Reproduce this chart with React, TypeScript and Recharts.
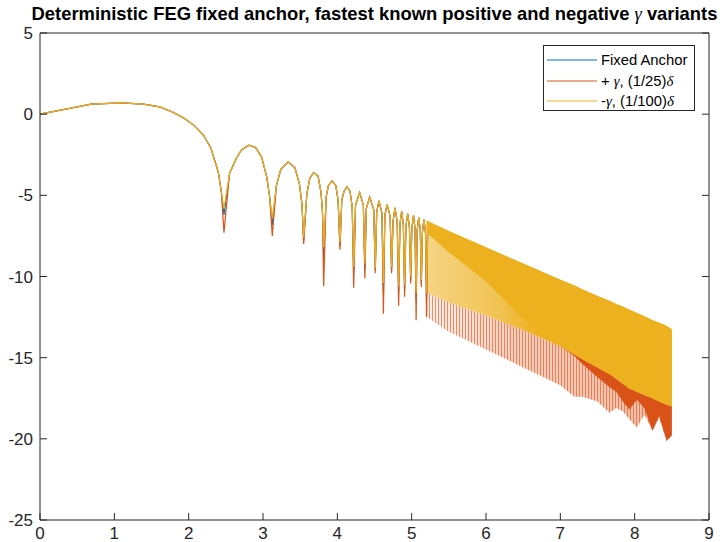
import React from 'react';
import { ComposedChart, Line, Area, XAxis, YAxis, Legend } from 'recharts';

const xTicks = [0, 1, 2, 3, 4, 5, 6, 7, 8, 9];
const yTicks = [-25, -20, -15, -10, -5, 0, 5];

const C_BLUE = '#0072BD';
const C_ORANGE = '#D95319';
const C_YELLOW = '#EDB120';
const AX = '#262626';
const FONT = '"Liberation Sans", Arial, Helvetica, sans-serif';

// Sparse (resolved) part: x positions, shared by all three series
const sparseX = [
  0, 0.69, 1.10, 1.39, 1.61, 1.79, 1.95, 2.08, 2.20, 2.30, 2.40, 2.44,
  2.475, 2.55, 2.64, 2.71, 2.81, 2.90, 2.98, 3.05, 3.09,
  3.125, 3.18, 3.24, 3.34, 3.43, 3.49, 3.525,
  3.547, 3.59, 3.63, 3.68, 3.74, 3.78, 3.80,
  3.816, 3.85, 3.88, 3.93, 3.98, 4.01,
  4.035, 4.06, 4.09, 4.13, 4.17, 4.20,
  4.22, 4.245, 4.30, 4.35,
  4.37, 4.39, 4.435, 4.49,
  4.51, 4.53, 4.56, 4.60,
  4.62, 4.64, 4.67, 4.71,
  4.73, 4.75, 4.775, 4.805,
  4.825, 4.842, 4.865, 4.888,
  4.905, 4.922, 4.946, 4.970,
  4.987, 5.002, 5.025, 5.045,
  5.06, 5.074, 5.095, 5.116,
  5.13, 5.144, 5.165, 5.186,
  5.2, 5.214,
];

const yellowY = [
  0, 0.62, 0.70, 0.62, 0.45, 0.12, -0.28, -0.72, -1.3, -2.1, -3.6, -4.8,
  -5.8, -3.65, -2.73, -2.2, -1.91, -2.05, -2.63, -3.86, -5.1,
  -6.4, -4.4, -3.4, -2.94, -3.3, -4.3, -5.6,
  -7.6, -4.9, -3.95, -3.6, -3.8, -4.8, -6.0,
  -8.2, -5.1, -4.4, -4.11, -4.4, -5.3,
  -7.9, -5.3, -4.75, -4.48, -4.75, -5.7,
  -9.4, -5.6, -4.83, -5.6,
  -9.2, -5.8, -5.1, -5.9,
  -9.5, -6.0, -5.34, -6.1,
  -10.4, -6.2, -5.57, -6.3,
  -9.4, -6.6, -5.77, -6.6,
  -10.6, -6.8, -5.98, -6.8,
  -10.5, -6.95, -6.12, -6.95,
  -10.0, -7.05, -6.25, -7.05,
  -11.0, -7.15, -6.37, -7.15,
  -10.2, -7.3, -6.5, -7.3,
  -11.0, -7.4,
];

const blueY = [
  0, 0.62, 0.70, 0.62, 0.45, 0.12, -0.28, -0.72, -1.3, -2.1, -3.6, -4.8,
  -6.2, -3.65, -2.73, -2.2, -1.91, -2.05, -2.63, -3.86, -5.1,
  -6.85, -4.4, -3.4, -2.94, -3.3, -4.3, -5.6,
  -7.8, -4.9, -3.95, -3.6, -3.8, -4.8, -6.0,
  -8.8, -5.1, -4.4, -4.11, -4.4, -5.3,
  -8.1, -5.3, -4.75, -4.48, -4.75, -5.7,
  -9.8, -5.6, -4.83, -5.6,
  -9.6, -5.8, -5.1, -5.9,
  -9.6, -6.0, -5.34, -6.1,
  -11.0, -6.2, -5.57, -6.3,
  -9.6, -6.6, -5.77, -6.6,
  -11.0, -6.8, -5.98, -6.8,
  -10.8, -6.95, -6.12, -6.95,
  -10.2, -7.05, -6.25, -7.05,
  -11.5, -7.15, -6.37, -7.15,
  -10.4, -7.3, -6.5, -7.3,
  -11.3, -7.4,
];

const orangeY = [
  0, 0.62, 0.70, 0.62, 0.45, 0.12, -0.28, -0.72, -1.3, -2.1, -3.6, -4.8,
  -7.3, -3.65, -2.73, -2.2, -1.91, -2.05, -2.63, -3.86, -5.1,
  -7.5, -4.4, -3.4, -2.94, -3.3, -4.3, -5.6,
  -8.0, -4.9, -3.95, -3.6, -3.8, -4.8, -6.0,
  -10.6, -5.1, -4.4, -4.11, -4.4, -5.3,
  -8.35, -5.3, -4.75, -4.48, -4.75, -5.7,
  -10.7, -5.6, -4.83, -5.6,
  -10.1, -5.8, -5.1, -5.9,
  -9.8, -6.0, -5.34, -6.1,
  -12.3, -6.2, -5.57, -6.3,
  -9.8, -6.6, -5.77, -6.6,
  -11.8, -6.8, -5.98, -6.8,
  -11.25, -6.95, -6.12, -6.95,
  -10.43, -7.05, -6.25, -7.05,
  -12.7, -7.15, -6.37, -7.15,
  -10.64, -7.3, -6.5, -7.3,
  -12.5, -7.4,
];

// Dense (unresolved oscillation) part: envelopes
const denseX = [5.2, 5.5, 6.0, 6.5, 7.0, 7.19, 7.3, 7.5, 7.66, 7.75, 7.84, 7.93, 8.03, 8.13, 8.24, 8.33, 8.43, 8.5];
const topEnvelope = [-6.55, -7.2, -8.2, -9.2, -10.2, -10.55, -10.8, -11.2, -11.5, -11.7, -11.85, -12.05, -12.25, -12.45, -12.7, -12.85, -13.05, -13.25];
const yellowSolidLow = [-7.3, -8.5, -10.3, -12.6, -14.3, -14.8, -15.1, -15.6, -16.0, -16.3, -16.6, -16.9, -17.1, -17.3, -17.5, -17.7, -17.9, -18.0];
const yellowLow = [-11.0, -11.6, -12.4, -13.3, -14.3, -14.8, -15.1, -15.6, -16.0, -16.3, -16.6, -16.9, -17.1, -17.3, -17.5, -17.7, -17.9, -18.0];
const orangeDarkLow = [-11.0, -11.6, -12.4, -13.3, -14.3, -14.9, -15.4, -16.2, -16.8, -17.1, -17.7, -18.2, -17.6, -18.1, -19.5, -18.6, -20.1, -19.8];
const orangeSpikeLow = [-12.5, -13.4, -14.5, -15.6, -16.7, -17.4, -17.4, -17.7, -18.4, -18.1, -18.3, -18.8, -19.3, -18.5, -19.5, -18.7, -20.15, -19.8];

const sparseBlue = sparseX.map((x, i) => ({ x, y: blueY[i] }));
const sparseOrange = sparseX.map((x, i) => ({ x, y: orangeY[i] }));
const sparseYellow = sparseX.map((x, i) => ({ x, y: yellowY[i] }));
const dense = denseX.map((x, i) => ({
  x,
  top: topEnvelope[i],
  ySolid: yellowSolidLow[i],
  yLow: yellowLow[i],
  oDark: orangeDarkLow[i],
  oSpike: orangeSpikeLow[i],
}));

const BottomTick = (p: any) => (
  <g>
    <line x1={p.x} x2={p.x} y1={p.y} y2={p.y - 7} stroke={AX} strokeWidth={1} />
    <text x={p.x} y={p.y + 19} textAnchor="middle" fontSize={17} fontFamily={FONT} fill={AX}>
      {p.payload.value}
    </text>
  </g>
);
const TopTick = (p: any) => (
  <line x1={p.x} x2={p.x} y1={p.y} y2={p.y + 7} stroke={AX} strokeWidth={1} />
);
const LeftTick = (p: any) => (
  <g>
    <line x1={p.x} x2={p.x + 7} y1={p.y} y2={p.y} stroke={AX} strokeWidth={1} />
    <text x={p.x - 7} y={p.y + 6} textAnchor="end" fontSize={17} fontFamily={FONT} fill={AX}>
      {p.payload.value}
    </text>
  </g>
);
const RightTick = (p: any) => (
  <line x1={p.x} x2={p.x - 7} y1={p.y} y2={p.y} stroke={AX} strokeWidth={1} />
);

const G = (s: string) => (
  <span style={{ fontFamily: '"Liberation Serif", "DejaVu Serif", serif', fontStyle: 'italic' }}>{s}</span>
);

const legendRows = [
  { color: C_BLUE, label: <>Fixed Anchor</> },
  { color: C_ORANGE, label: <>+ {G('γ')}, (1/25){G('δ')}</> },
  { color: C_YELLOW, label: <>-{G('γ')}, (1/100){G('δ')}</> },
];

const LegendBox = () => (
  <div
    style={{
      position: 'relative',
      width: 152,
      height: 66,
      boxSizing: 'border-box',
      border: `1px solid ${AX}`,
      background: '#fff',
      fontFamily: FONT,
      fontSize: 14.8,
      color: '#000',
    }}
  >
    {legendRows.map((r, i) => (
      <div key={i} style={{ position: 'absolute', left: 0, top: 4 + i * 20.5, height: 20, width: 150 }}>
        <svg width={54} height={20} style={{ position: 'absolute', left: 0, top: 0 }}>
          <line x1={3} x2={53} y1={10} y2={10} stroke={r.color} strokeWidth={1.2} />
        </svg>
        <div style={{ position: 'absolute', left: 57, top: 1, lineHeight: '18px', whiteSpace: 'nowrap' }}>{r.label}</div>
      </div>
    ))}
  </div>
);

export default function App() {
  return (
    <div style={{ position: 'absolute', left: 0, top: 0, width: 720, height: 542, background: '#fff' }}>
      <div
        style={{
          position: 'absolute',
          left: 0,
          width: 749,
          top: 3,
          textAlign: 'center',
          fontFamily: FONT,
          fontWeight: 'bold',
          fontSize: 18.4,
          color: '#000',
          whiteSpace: 'nowrap',
          zIndex: 2,
        }}
      >
        Deterministic FEG fixed anchor, fastest known positive and negative{' '}
        <span style={{ fontFamily: '"Liberation Serif", serif', fontStyle: 'italic', fontWeight: 'normal' }}>γ</span> variants
      </div>
      <ComposedChart width={720} height={542} margin={{ top: 32, right: 10, bottom: 0, left: 39 }}>
        <defs>
          <linearGradient id="oSpikeGrad" x1="0" y1="0" x2="1" y2="0">
            <stop offset="0" stopColor={C_ORANGE} stopOpacity={0.1} />
            <stop offset="0.35" stopColor={C_ORANGE} stopOpacity={0.28} />
            <stop offset="1" stopColor={C_ORANGE} stopOpacity={0.4} />
          </linearGradient>
          <pattern id="oStripes" x="0" y="0" width="3" height="8" patternUnits="userSpaceOnUse">
            <rect x="0" y="0" width="1" height="8" fill={C_ORANGE} fillOpacity={0.6} />
          </pattern>
          <linearGradient id="yLightGrad" x1="0" y1="0" x2="1" y2="0">
            <stop offset="0" stopColor={C_YELLOW} stopOpacity={0.55} />
            <stop offset="0.3" stopColor={C_YELLOW} stopOpacity={0.78} />
            <stop offset="0.45" stopColor={C_YELLOW} stopOpacity={1} />
          </linearGradient>
        </defs>
        <XAxis
          xAxisId={0}
          dataKey="x"
          type="number"
          domain={[0, 9]}
          ticks={xTicks}
          interval={0}
          height={22}
          tickSize={0}
          tickMargin={0}
          tickLine={false}
          tick={<BottomTick />}
          axisLine={{ stroke: AX, strokeWidth: 1 }}
          allowDataOverflow
        />
        <XAxis
          xAxisId="top"
          orientation="top"
          type="number"
          domain={[0, 9]}
          ticks={xTicks}
          interval={0}
          height={1}
          tickSize={0}
          tickMargin={0}
          tickLine={false}
          tick={<TopTick />}
          axisLine={{ stroke: AX, strokeWidth: 1 }}
          allowDataOverflow
        />
        <YAxis
          yAxisId={0}
          type="number"
          domain={[-25, 5]}
          ticks={yTicks}
          interval={0}
          width={1}
          tickSize={0}
          tickMargin={0}
          tickLine={false}
          tick={<LeftTick />}
          axisLine={{ stroke: AX, strokeWidth: 1 }}
          allowDataOverflow
        />
        <YAxis
          yAxisId="right"
          orientation="right"
          type="number"
          domain={[-25, 5]}
          ticks={yTicks}
          interval={0}
          width={1}
          tickSize={0}
          tickMargin={0}
          tickLine={false}
          tick={<RightTick />}
          axisLine={{ stroke: AX, strokeWidth: 1 }}
          allowDataOverflow
        />
        <Area
          data={dense}
          dataKey={(d: any) => [d.oSpike, d.yLow]}
          type="linear"
          stroke="none"
          fill="url(#oSpikeGrad)"
          fillOpacity={1}
          isAnimationActive={false}
          legendType="none"
        />
        <Area
          data={dense}
          dataKey={(d: any) => [d.oSpike, d.yLow]}
          type="linear"
          stroke="none"
          fill="url(#oStripes)"
          fillOpacity={1}
          isAnimationActive={false}
          legendType="none"
        />
        <Area
          data={dense}
          dataKey={(d: any) => [d.oDark, d.yLow]}
          type="linear"
          stroke="none"
          fill={C_ORANGE}
          fillOpacity={1}
          isAnimationActive={false}
          legendType="none"
        />
        <Area
          data={dense}
          dataKey={(d: any) => [d.yLow, d.top]}
          type="linear"
          stroke="none"
          fill="url(#yLightGrad)"
          fillOpacity={1}
          isAnimationActive={false}
          legendType="none"
        />
        <Area
          data={dense}
          dataKey={(d: any) => [d.ySolid, d.top]}
          type="linear"
          stroke="none"
          fill={C_YELLOW}
          fillOpacity={1}
          isAnimationActive={false}
          legendType="none"
        />
        <Line data={sparseBlue} dataKey="y" type="linear" stroke={C_BLUE} strokeWidth={1.2} dot={false} isAnimationActive={false} name="Fixed Anchor" />
        <Line data={sparseOrange} dataKey="y" type="linear" stroke={C_ORANGE} strokeWidth={1.2} dot={false} isAnimationActive={false} name="+γ" />
        <Line data={sparseYellow} dataKey="y" type="linear" stroke={C_YELLOW} strokeWidth={1.2} dot={false} isAnimationActive={false} name="-γ" />
        <Legend
          layout="vertical"
          align="center"
          verticalAlign="middle"
          content={() => <LegendBox />}
          wrapperStyle={{ position: 'absolute', left: 543, top: 45, width: 152, height: 66, margin: 0, padding: 0 }}
        />
      </ComposedChart>
    </div>
  );
}
